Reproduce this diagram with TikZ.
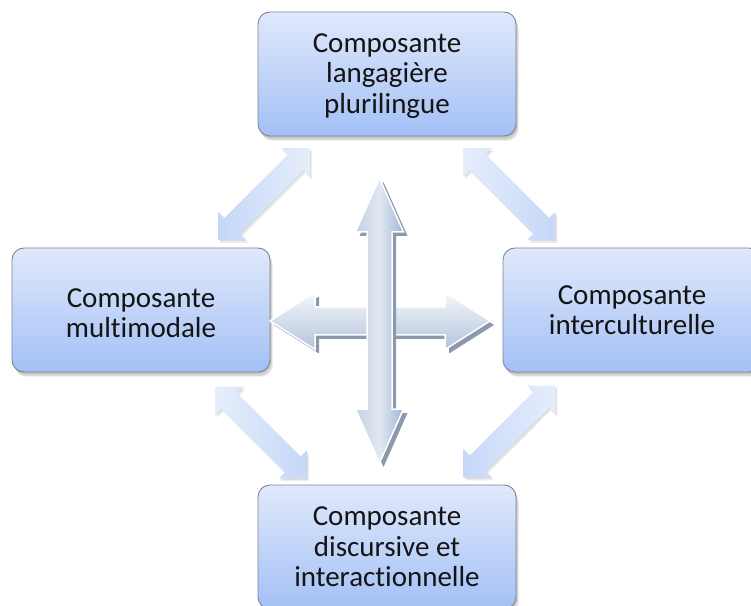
\documentclass[tikz,border=0pt]{standalone}
\usepackage{fontspec}
\setmainfont{Carlito}[Ligatures=NoCommon]
\usetikzlibrary{calc}
\definecolor{boxtop}{HTML}{E0E9FB}
\definecolor{boxbot}{HTML}{A3C0F6}
\definecolor{boxline}{HTML}{7F8793}
\definecolor{diagA}{HTML}{E6EEFC}
\definecolor{diagB}{HTML}{C6D7F8}
\definecolor{crossA}{HTML}{F5F7FB}
\definecolor{crossB}{HTML}{B3C3DB}
\definecolor{vleft}{HTML}{C3D1E5}
\definecolor{vmid}{HTML}{E0E8F2}
\definecolor{vright}{HTML}{A3B6D4}
\definecolor{shadowc}{HTML}{8C98AC}
\pgfdeclarelayer{back}
\pgfdeclarelayer{bg}
\pgfsetlayers{back,bg,main}
% horizontal double block arrow centred at the origin of the current shift
% #1 options, #2 half length, #3 shaft half width, #4 head half width, #5 head length
\newcommand{\DblArrowH}[5]{\path[#1] (-#2,0) -- (-#2+#5,#4) -- (-#2+#5,#3) -- (#2-#5,#3) -- (#2-#5,#4) -- (#2,0) -- (#2-#5,-#4) -- (#2-#5,-#3) -- (-#2+#5,-#3) -- (-#2+#5,-#4) -- cycle;}
\newcommand{\DblArrowV}[5]{\path[#1] (0,-#2) -- (#4,-#2+#5) -- (#3,-#2+#5) -- (#3,#2-#5) -- (#4,#2-#5) -- (0,#2) -- (-#4,#2-#5) -- (-#3,#2-#5) -- (-#3,-#2+#5) -- (-#4,-#2+#5) -- cycle;}
\begin{document}
\begin{tikzpicture}[x=1pt,y=1pt,
  compbox/.style={rectangle, rounded corners=12pt, minimum width=258pt, minimum height=124pt,
    inner sep=0pt, outer sep=0pt, draw=boxline, line width=0.9pt, top color=boxtop, bottom color=boxbot},
  lbl/.style={align=center, inner sep=0pt, font=\fontsize{29}{30.5}\selectfont, text=black!92},
  diagshadow/.style={fill=black, opacity=0.07}]
\useasboundingbox (0,0) rectangle (751,605);
\clip (0,0) rectangle (751,605);
\begin{pgfonlayer}{back}
\fill[white] (0,0) rectangle (751,605);
\end{pgfonlayer}

% boxes
\node[compbox] (t) at (387,531) {};
\node[compbox] (l) at (141,295) {};
\node[compbox] (r) at (632,295) {};
\node[compbox] (b) at (387,58) {};

\node[lbl] (tlab) at ($(t.center)+(0,-2)$) {Composante\\langagière\\plurilingue};
\node[lbl] (llab) at ($(l.center)+(0,-3)$) {Composante\\multimodale};
\node[lbl] (rlab) at ($(r.center)+(0,0)$) {Composante\\interculturelle};
\node[lbl] (blab) at ($(b.center)+(0,0)$) {Composante\\discursive et\\interactionnelle};

% box shadows
\begin{pgfonlayer}{bg}
\foreach \n in {t,l,r,b}{
  \fill[black, opacity=0.10, rounded corners=12pt] ($(\n.south west)+(1,-2)$) rectangle ($(\n.north east)+(1,-2)$);
  \fill[black, opacity=0.10, rounded corners=12pt] ($(\n.south west)+(2,-4)$) rectangle ($(\n.north east)+(2,-4)$);
  \fill[black, opacity=0.06, rounded corners=12pt] ($(\n.south west)+(3,-5)$) rectangle ($(\n.north east)+(3,-5)$);
}
\end{pgfonlayer}

% diagonal connectors
\coordinate (tl) at ($(t.south west)!0.5!(l.north east)$);
\coordinate (tr) at ($(t.south east)!0.5!(r.north west)$);
\coordinate (bl) at ($(l.south east)!0.5!(b.north west)$);
\coordinate (br) at ($(r.south west)!0.5!(b.north east)$);

\foreach \c/\dx/\dy/\ang in {tl/0/-2/45, tr/0/-2/-45, bl/-3/-4/-45, br/0/-3/45}{
  \DblArrowH{shift={(\c)}, xshift=\dx pt+2pt, yshift=\dy pt-3pt, rotate=\ang, diagshadow}{65}{11}{20}{20}
  \DblArrowH{shift={(\c)}, xshift=\dx pt+1pt, yshift=\dy pt-1.5pt, rotate=\ang, diagshadow}{65}{11}{20}{20}
}
\DblArrowH{shift={(tl)}, yshift=-2pt, rotate=45, left color=diagB, right color=diagA}{65}{11}{20}{20}
\DblArrowH{shift={(tr)}, yshift=-2pt, rotate=-45, left color=diagA, right color=diagB}{65}{11}{20}{20}
\DblArrowH{shift={(bl)}, xshift=-3pt, yshift=-4pt, rotate=-45, left color=diagA, right color=diagB}{65}{11}{20}{20}
\DblArrowH{shift={(br)}, yshift=-3pt, rotate=45, left color=diagB, right color=diagA}{65}{11}{20}{20}

% central cross
\coordinate (hc) at ($(l.east)+(110,-11)$);
\coordinate (vc) at (379.5,284.5);
\DblArrowH{shift={(hc)}, xshift=4pt, yshift=-4pt, fill=shadowc}{110}{14}{28.5}{45}
\DblArrowH{shift={(hc)}, top color=crossA, bottom color=crossB, draw=white, line width=1.5pt}{110}{14}{28.5}{45}
\DblArrowV{shift={(vc)}, xshift=4pt, yshift=-4pt, fill=shadowc}{142.5}{12.5}{24}{54}
\DblArrowV{shift={(vc)}, left color=vleft, right color=vright, middle color=vmid, draw=white, line width=1.5pt}{142.5}{12.5}{24}{54}
\end{tikzpicture}
\end{document}
